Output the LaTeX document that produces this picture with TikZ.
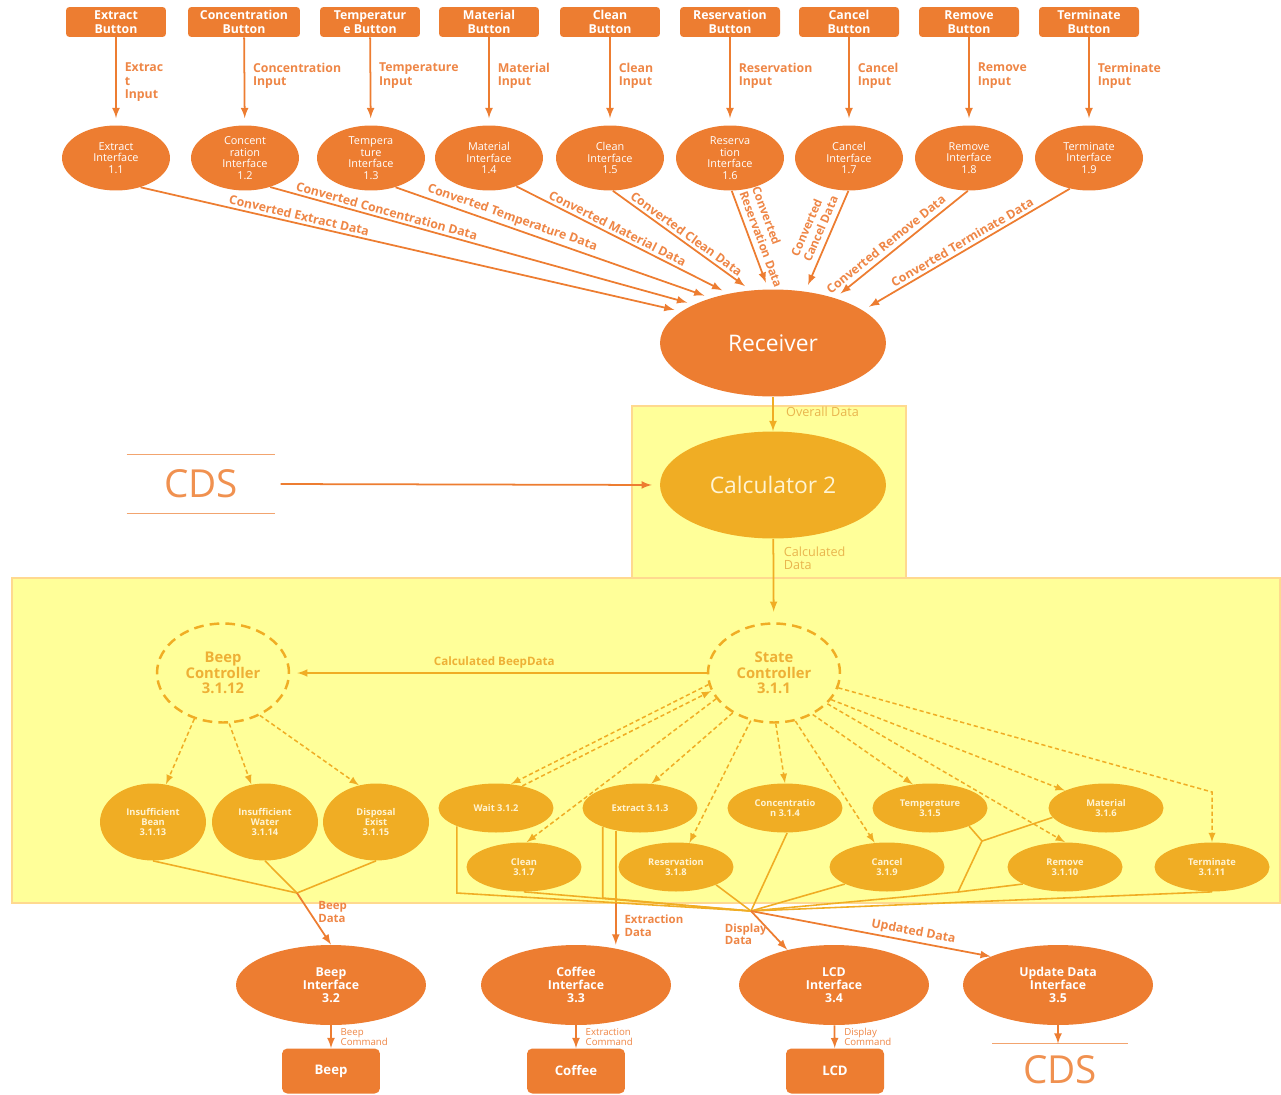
\documentclass[tikz,border=0pt]{standalone}
\usepackage{fontspec}
\setmainfont{Open Sans}
\usetikzlibrary{positioning, shapes, arrows}
\definecolor{myorange}{HTML}{ED7D31}
\definecolor{lblorange}{HTML}{EE8646}
\definecolor{mymustard}{HTML}{F0AD24}
\definecolor{myyellow}{HTML}{FFFF99}
\definecolor{boxline}{HTML}{FFD98F}
\definecolor{paletext}{HTML}{FFF4D2}
\definecolor{ctrltext}{HTML}{EEB036}
\definecolor{ylbltext}{HTML}{E9B54E}

\begin{document}
\begin{tikzpicture}[x=0.02cm, y=-0.02cm, >=latex,
  button/.style={rectangle, rounded corners=2pt, fill=myorange, text=white, align=center, inner sep=0pt, minimum width=2cm, minimum height=0.6cm, font=\fontsize{7}{7.8}\selectfont\bfseries},
  iface/.style={ellipse, fill=myorange, text=white, align=center, inner sep=0pt, minimum width=2.16cm, minimum height=1.3cm, font=\fontsize{6.2}{6.6}\selectfont},
  inlabel/.style={anchor=north west, align=left, text=lblorange, inner sep=0pt, font=\fontsize{7}{7.8}\selectfont\bfseries},
  convlabel/.style={sloped, above, align=left, text=lblorange, inner sep=1.5pt, font=\fontsize{7}{7.8}\selectfont\bfseries},
  bigproc/.style={ellipse, inner sep=0pt, minimum width=4.52cm, minimum height=2.14cm, font=\fontsize{13}{15}\selectfont},
  ctrl/.style={ellipse, draw=mymustard, line width=1.4pt, dash pattern=on 5.5pt off 3.5pt, text=ctrltext, align=center, inner sep=0pt, minimum width=2.64cm, minimum height=1.98cm, font=\fontsize{8.4}{8.8}\selectfont\bfseries},
  substate/.style={ellipse, fill=mymustard, text=paletext, align=center, inner sep=0pt, minimum width=2.3cm, minimum height=0.98cm, font=\fontsize{5.3}{5.7}\selectfont\bfseries},
  beepstate/.style={substate, minimum width=2.12cm, minimum height=1.54cm},
  outiface/.style={ellipse, fill=myorange, text=white, align=center, inner sep=0pt, minimum width=3.8cm, minimum height=1.6cm, font=\fontsize{7}{7.5}\selectfont\bfseries},
  device/.style={rectangle, rounded corners=3pt, fill=myorange, text=white, inner sep=0pt, minimum width=1.96cm, minimum height=0.9cm, font=\fontsize{7.5}{8}\selectfont\bfseries},
  store/.style={text=myorange!85, inner sep=0pt, minimum width=2.96cm, minimum height=1.16cm, font=\fontsize{22}{24}\selectfont},
  storeline/.style={draw=myorange!70, line width=0.7pt},
  flow/.style={->, draw=myorange, line width=1pt},
  yflow/.style={->, draw=mymustard, line width=1pt},
  ctrlflow/.style={->, draw=mymustard, line width=0.85pt, dash pattern=on 2.4pt off 1.6pt},
  merge/.style={draw=mymustard, line width=0.9pt},
  ylabel/.style={text=ylbltext, inner sep=0pt, align=left, font=\fontsize{7.2}{7.8}\selectfont},
  ctrllabel/.style={text=ctrltext, inner sep=2pt, font=\fontsize{6.6}{7.2}\selectfont\bfseries},
  cmdlabel/.style={anchor=west, text=lblorange, inner sep=0pt, align=left, font=\fontsize{5.5}{5.8}\selectfont},
  outlabel/.style={text=lblorange, inner sep=0pt, align=left, font=\fontsize{6.5}{7.2}\selectfont\bfseries}
]
\def\btnrow{22}
\def\ifrow{158}
\def\rowA{808}
\def\rowB{867}

\useasboundingbox (0,0) rectangle (1281,1095);

%Calculator areas
\draw[fill=myyellow, draw=boxline, line width=1pt] (632,406) rectangle (906,578);
\draw[fill=myyellow, draw=boxline, line width=1pt] (12,578) rectangle (1280,903);
\coordinate (ybottom) at (0,903);

%Buttons
\node (b1) at (116,\btnrow) [button] {Extract\\Button};
\node (b2) at (244,\btnrow) [button, minimum width=2.24cm] {Concentration\\Button};
\node (b3) at (370,\btnrow) [button] {Temperatur\\e Button};
\node (b4) at (489,\btnrow) [button] {Material\\Button};
\node (b5) at (610,\btnrow) [button] {Clean\\Button};
\node (b6) at (730,\btnrow) [button] {Reservation\\Button};
\node (b7) at (849,\btnrow) [button] {Cancel\\Button};
\node (b8) at (969,\btnrow) [button] {Remove\\Button};
\node (b9) at (1089,\btnrow) [button] {Terminate\\Button};

%Interfaces
\node (i1) at (116,\ifrow) [iface] {Extract\\Interface\\1.1};
\node (i2) at (245,\ifrow) [iface] {Concent\\ration\\Interface\\1.2};
\node (i3) at (371,\ifrow) [iface] {Tempera\\ture\\Interface\\1.3};
\node (i4) at (489,\ifrow) [iface] {Material\\Interface\\1.4};
\node (i5) at (610,\ifrow) [iface] {Clean\\Interface\\1.5};
\node (i6) at (730,\ifrow) [iface] {Reserva\\tion\\Interface\\1.6};
\node (i7) at (849,\ifrow) [iface] {Cancel\\Interface\\1.7};
\node (i8) at (969,\ifrow) [iface] {Remove\\Interface\\1.8};
\node (i9) at (1089,\ifrow) [iface] {Terminate\\Interface\\1.9};

%Receiver and calculator
\node (recv) at (773,343) [bigproc, fill=myorange, text=white] {Receiver};
\node (calc) at (773,485) [bigproc, fill=mymustard, text=paletext] {Calculator 2};
\node (cdsl) at (201,484) [store] {CDS};
\draw[storeline] (cdsl.north west) -- (cdsl.north east);
\draw[storeline] (cdsl.south west) -- (cdsl.south east);

%Controllers
\node (sc) at (774,673) [ctrl] {State\\Controller\\3.1.1};
\node (bc) at (223,673) [ctrl] {Beep\\Controller\\3.1.12};

%States
\node (wait) at (496,\rowA) [substate] {Wait 3.1.2};
\node (extr) at (640,\rowA) [substate] {Extract 3.1.3};
\node (conc) at (785,\rowA) [substate] {Concentratio\\n 3.1.4};
\node (temp) at (930,\rowA) [substate] {Temperature\\3.1.5};
\node (matl) at (1106,\rowA) [substate] {Material\\3.1.6};
\node (clean) at (524,\rowB) [substate] {Clean\\3.1.7};
\node (resv) at (676,\rowB) [substate] {Reservation\\3.1.8};
\node (cncl) at (887,\rowB) [substate] {Cancel\\3.1.9};
\node (remv) at (1065,\rowB) [substate] {Remove\\3.1.10};
\node (term) at (1212,\rowB) [substate] {Terminate\\3.1.11};
\node (bean) at (153,822) [beepstate] {Insufficient\\Bean\\3.1.13};
\node (water) at (265,822) [beepstate] {Insufficient\\Water\\3.1.14};
\node (disp) at (376,822) [beepstate] {Disposal\\Exist\\3.1.15};

%Output interfaces
\node (bif) at (331,985) [outiface] {Beep\\Interface\\3.2};
\node (cif) at (576,985) [outiface] {Coffee\\Interface\\3.3};
\node (lif) at (834,985) [outiface] {LCD\\Interface\\3.4};
\node (uif) at (1058,985) [outiface] {Update Data\\Interface\\3.5};

%Devices
\node (beep) at (331,1071) [device] {Beep};
\node (coffee) at (576,1071) [device] {Coffee};
\node (lcd) at (835,1071) [device] {LCD};
\node (cdsr) at (1060,1070) [store, minimum width=2.7cm, minimum height=1.04cm] {CDS};
\draw[storeline] (cdsr.north west) -- (cdsr.north east);
\draw[storeline] (cdsr.south west) -- (cdsr.south east);

%Inputs
\draw[flow, shorten >=4pt] (b1) -- node[inlabel, pos=0.28, xshift=4.5pt] {Extrac\\t\\Input} (i1);
\draw[flow, shorten >=4pt] (b2) -- node[inlabel, pos=0.28, xshift=4.5pt] {Concentration\\Input} (i2);
\draw[flow, shorten >=4pt] (b3) -- node[inlabel, pos=0.28, xshift=4.5pt] {Temperature\\Input} (i3);
\draw[flow, shorten >=4pt] (b4) -- node[inlabel, pos=0.28, xshift=4.5pt] {Material\\Input} (i4);
\draw[flow, shorten >=4pt] (b5) -- node[inlabel, pos=0.28, xshift=4.5pt] {Clean\\Input} (i5);
\draw[flow, shorten >=4pt] (b6) -- node[inlabel, pos=0.28, xshift=4.5pt] {Reservation\\Input} (i6);
\draw[flow, shorten >=4pt] (b7) -- node[inlabel, pos=0.28, xshift=4.5pt] {Cancel\\Input} (i7);
\draw[flow, shorten >=4pt] (b8) -- node[inlabel, pos=0.28, xshift=4.5pt] {Remove\\Input} (i8);
\draw[flow, shorten >=4pt] (b9) -- node[inlabel, pos=0.28, xshift=4.5pt] {Terminate\\Input} (i9);

%Converted data
\draw[flow, shorten >=4pt] (i1.-50) -- node[convlabel, pos=0.29] {Converted Extract Data} (recv.161);
\draw[flow, shorten >=4pt] (i2.-49) -- node[convlabel, pos=0.27] {Converted Concentration Data} (recv.154);
\draw[flow, shorten >=4pt] (i3.-50) -- node[convlabel, pos=0.36] {Converted Temperature Data} (recv.144);
\draw[flow, shorten >=4pt] (i4.-46) -- node[convlabel, pos=0.46] {Converted Material Data} (recv.132);
\draw[flow, shorten >=4pt] (i5.-85) -- node[convlabel, pos=0.5] {Converted Clean Data} (recv.113);
\draw[flow, shorten >=4pt] (i6.-87) -- node[convlabel, pos=0.53, inner sep=3pt, font=\fontsize{6.7}{7.6}\selectfont\bfseries] {Converted\\Reservation Data} (recv.95);
\draw[flow, shorten >=4pt] (i7.-91) -- node[convlabel, pos=0.42, inner sep=3pt, font=\fontsize{6.7}{7.6}\selectfont\bfseries] {Converted\\Cancel Data} (recv.58);
\draw[flow, shorten >=4pt] (i8.-92) -- node[convlabel, pos=0.57, inner sep=2.5pt] {Converted Remove Data} (recv.36);
\draw[flow, shorten >=4pt] (i9.-122) -- node[convlabel, pos=0.5] {Converted Terminate Data} (recv.20);

%Calculator flows
\draw[yflow] (recv) -- node[ylabel, anchor=west, pos=0.43, xshift=7pt] {Overall Data} (calc);
\draw[flow, shorten <=3pt, shorten >=4.5pt] (cdsl.east) -- (calc.west);
\draw[yflow, shorten >=6pt] (calc) -- node[ylabel, anchor=north west, pos=0.08, xshift=5.5pt] {Calculated\\Data} (sc);
\draw[yflow, shorten >=4pt] (sc.west) -- node[ctrllabel, above, pos=0.51] {Calculated BeepData} (bc.east);

%State controller
\draw[ctrlflow] (sc.190) -- (wait.58);
\draw[ctrlflow] (wait.40) -- (sc.196);
\draw[ctrlflow] (sc.204) -- (clean.84);
\draw[ctrlflow] (sc.224) -- (extr.65);
\draw[ctrlflow] (sc.244) -- (resv.61);
\draw[ctrlflow] (sc.-88) -- (conc.north);
\draw[ctrlflow] (sc.-66) -- (cncl.117);
\draw[ctrlflow] (sc.-47) -- (temp.126);
\draw[ctrlflow] (sc.-30) -- (remv.north);
\draw[ctrlflow] (sc.-25) -- (matl.157);
\coordinate (tcorner) at (1212,792);
\draw[ctrlflow] (sc.-13) -- (tcorner) -- (term.north);

%Beep controller
\draw[ctrlflow] (bc.-122) -- (bean.71);
\draw[ctrlflow] (bc.-83) -- (water.110);
\draw[ctrlflow] (bc.-49) -- (disp.115);

%Beep merge
\coordinate (bm) at (297,893);
\draw[merge] (bean.south) -- (bm);
\draw[merge] (water.south) -- (bm);
\draw[merge] (disp.south) -- (bm);
\draw[flow] (bm) -- node[outlabel, anchor=west, pos=0.37, xshift=4.5pt] {Beep\\Data} (bif.north);

%Main merge
\coordinate (mm) at (751,911);
\coordinate (wcorner) at (455,893);
\coordinate (ecorner) at (600,898);
\coordinate (tj) at (982,841);
\coordinate (rj) at (958,892);
\draw[merge] (wait.205) -- (wait.205 |- wcorner) -- (mm);
\draw[merge] (clean.south) -- (mm);
\draw[merge] (extr.207) -- (extr.207 |- ecorner) -- (mm);
\draw[merge] (resv.-24) -- (mm);
\draw[merge] (conc.-85) -- (mm);
\draw[merge] (cncl.202) -- (mm);
\draw[merge] (temp.-25) -- (tj);
\draw[merge] (matl.190) -- (tj);
\draw[merge] (tj) -- (rj) -- (mm);
\draw[merge] (remv.202) -- (rj);
\draw[merge] (term.south) -- (mm);

\draw[merge] (extr.223) -- (extr.223 |- ybottom);
\draw[flow] (extr.223 |- ybottom) -- node[outlabel, anchor=west, pos=0.55, xshift=4.5pt] {Extraction\\Data} (extr.223 |- cif.north);
\draw[flow] (mm) -- node[outlabel, anchor=east, pos=0.6, xshift=-3pt] {Display\\Data} (lif.143);
\draw[flow] (mm) -- node[convlabel, pos=0.67] {Updated Data} (uif.157);

%Commands
\draw[flow] (bif) -- node[cmdlabel, xshift=5pt] {Beep\\Command} (beep);
\draw[flow] (cif) -- node[cmdlabel, xshift=5pt] {Extraction\\Command} (coffee);
\draw[flow] (lif) -- node[cmdlabel, xshift=5pt] {Display\\Command} (lcd);
\draw[flow] (uif.south) -- (uif.south |- cdsr.north);

\end{tikzpicture}
\end{document}
